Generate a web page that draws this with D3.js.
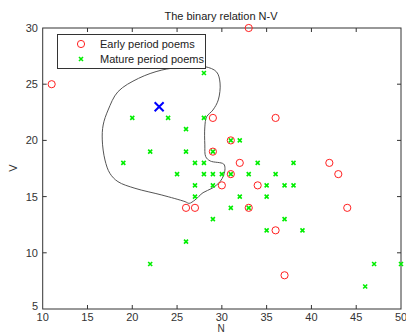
<!DOCTYPE html>
<html>
<head>
<meta charset="utf-8">
<script src="https://cdn.jsdelivr.net/npm/d3@7"></script>
<style>
  body { margin: 0; background: #fff; }
  text { font-family: "Liberation Sans", Arial, sans-serif; }
</style>
</head>
<body>
<div id="chart"></div>
<script>
// Early period poems (N, V)
const earlyN = [11, 33, 29, 36, 31, 29, 32, 42, 31, 43, 30, 34, 33, 44, 26, 27, 36, 37];
const earlyV = [25, 30, 22, 22, 20, 19, 18, 18, 17, 17, 16, 16, 14, 14, 14, 14, 12, 8];

// Mature period poems (N, V)
const matureN = [20, 24, 28, 28, 26, 22, 26, 29, 31, 32, 19, 27, 28, 34, 38, 25, 28, 29, 30, 31, 33, 36,
                 27, 29, 35, 37, 38, 27, 32, 35, 31, 33, 29, 37, 35, 39, 26, 22, 47, 50, 46];
const matureV = [22, 22, 22, 26, 21, 19, 19, 19, 20, 20, 18, 18, 18, 18, 18, 17, 17, 17, 17, 17, 17, 17,
                 16, 16, 16, 16, 16, 15, 15, 15, 14, 14, 13, 13, 12, 12, 11, 9, 9, 9, 7];

// highlighted point
const markN = [23];
const markV = [23];

// hand-drawn closed region (N, V)
const regionN = [23.3, 25.5, 28.1, 29.4, 29.8, 29.6, 29.0, 28.3, 28.1, 28.1, 28.2, 28.7, 30.2, 30.35, 30.2,
                 29.8, 28.9, 27.9, 27.0, 26.35, 25.9, 23.3, 20.3, 18.4, 17.5, 16.95, 16.65, 16.75, 17.3, 18.4, 20.7];
const regionV = [26.26, 26.5, 26.56, 26.1, 25.1, 23.6, 22.7, 22.1, 21.2, 19.6, 18.55, 18.17, 17.9, 17.5, 16.9,
                 16.33, 15.74, 15.35, 14.7, 14.4, 14.55, 15.14, 15.74, 16.33, 17.07, 18.26, 20.04, 21.37, 22.7, 24.33, 25.52];

const xTicks = [10, 15, 20, 25, 30, 35, 40, 45, 50];
const yTicks = [5, 10, 15, 20, 25, 30];

const width = 406, height = 333;
const axisColor = '#333';

const svg = d3.select('#chart').append('svg')
    .attr('width', width)
    .attr('height', height);

svg.append('rect').attr('width', width).attr('height', height).attr('fill', '#fff');

const x = d3.scaleLinear().domain([10, 50]).range([42.7, 401]);
const y = d3.scaleLinear().domain([5, 30]).range([309, 28]);

// plot box
svg.append('rect')
    .attr('x', x(10)).attr('y', y(30))
    .attr('width', x(50) - x(10)).attr('height', y(5) - y(30))
    .attr('fill', 'none').attr('stroke', axisColor).attr('stroke-width', 1);

// inward ticks (bottom/top)
const tickLen = 4;
const tg = svg.append('g').attr('stroke', axisColor).attr('stroke-width', 1);
xTicks.slice(1, -1).forEach(t => {
    tg.append('line').attr('x1', x(t)).attr('x2', x(t)).attr('y1', y(5)).attr('y2', y(5) - tickLen);
    tg.append('line').attr('x1', x(t)).attr('x2', x(t)).attr('y1', y(30)).attr('y2', y(30) + tickLen);
});
yTicks.slice(1, -1).forEach(t => {
    tg.append('line').attr('x1', x(10)).attr('x2', x(10) + tickLen).attr('y1', y(t)).attr('y2', y(t));
    tg.append('line').attr('x1', x(50)).attr('x2', x(50) - tickLen).attr('y1', y(t)).attr('y2', y(t));
});

// tick labels
svg.append('g').selectAll('text').data(xTicks).enter().append('text')
    .attr('x', d => x(d)).attr('y', 321)
    .attr('text-anchor', 'middle').attr('font-size', 11).attr('fill', axisColor)
    .text(d => d);
svg.append('g').selectAll('text').data(yTicks).enter().append('text')
    .attr('x', 38).attr('y', d => d === 5 ? y(d) + 1 : y(d) + 4)
    .attr('text-anchor', 'end').attr('font-size', 11).attr('fill', axisColor)
    .text(d => d);

// axis titles
svg.append('text').attr('x', 221).attr('y', 20)
    .attr('text-anchor', 'middle').attr('font-size', 11).attr('fill', '#222')
    .text('The binary relation N-V');
svg.append('text').attr('x', 221).attr('y', 332)
    .attr('text-anchor', 'middle').attr('font-size', 10).attr('fill', axisColor)
    .text('N');
svg.append('text')
    .attr('transform', 'translate(17,168) rotate(-90)')
    .attr('text-anchor', 'middle').attr('font-size', 11).attr('fill', axisColor)
    .text('V');

// region outline
const regionPts = regionN.map((n, i) => [n, regionV[i]]);
svg.append('path')
    .datum(regionPts)
    .attr('d', d3.line().x(d => x(d[0])).y(d => y(d[1])).curve(d3.curveCatmullRomClosed.alpha(0.5)))
    .attr('fill', 'none').attr('stroke', '#555').attr('stroke-width', 1);

// mature period markers (green x)
const xs = 2;
const mg = svg.append('g').attr('stroke', '#00ee00').attr('stroke-width', 1.6);
matureN.forEach((n, i) => {
    const cx = x(n), cy = y(matureV[i]);
    mg.append('path').attr('d', `M${cx - xs},${cy - xs}L${cx + xs},${cy + xs}M${cx - xs},${cy + xs}L${cx + xs},${cy - xs}`);
});

// early period markers (red o)
svg.append('g').selectAll('circle').data(earlyN).enter().append('circle')
    .attr('cx', d => x(d)).attr('cy', (d, i) => y(earlyV[i])).attr('r', 3.6)
    .attr('fill', 'none').attr('stroke', '#ff2020').attr('stroke-width', 1);

// highlighted point (blue X)
const bs = 4.5;
markN.forEach((n, i) => {
    const cx = x(n), cy = y(markV[i]);
    svg.append('path')
        .attr('d', `M${cx - bs},${cy - bs}L${cx + bs},${cy + bs}M${cx - bs},${cy + bs}L${cx + bs},${cy - bs}`)
        .attr('stroke', '#0000ff').attr('stroke-width', 2);
});

// legend
const lg = svg.append('g');
lg.append('rect').attr('x', 57.5).attr('y', 34.5).attr('width', 148).attr('height', 34)
    .attr('fill', '#fff').attr('stroke', axisColor).attr('stroke-width', 1);
lg.append('circle').attr('cx', 81).attr('cy', 44).attr('r', 3.6)
    .attr('fill', 'none').attr('stroke', '#ff2020').attr('stroke-width', 1);
lg.append('path').attr('d', `M${81 - xs},${59 - xs}L${81 + xs},${59 + xs}M${81 - xs},${59 + xs}L${81 + xs},${59 - xs}`)
    .attr('stroke', '#00ee00').attr('stroke-width', 1.6);
lg.append('text').attr('x', 100).attr('y', 48).attr('font-size', 11).attr('fill', '#222').text('Early period poems');
lg.append('text').attr('x', 100).attr('y', 63).attr('font-size', 11).attr('fill', '#222').text('Mature period poems');
</script>
</body>
</html>
